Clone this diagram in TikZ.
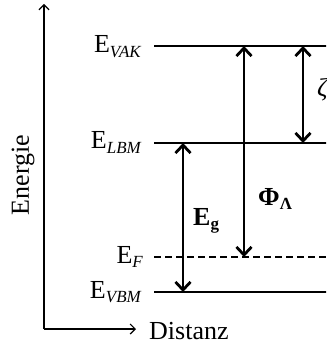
\documentclass[tikz,border=0pt]{standalone}
\usepackage{fontspec}
\setmainfont{Liberation Serif}
\usetikzlibrary{arrows.meta}
\newcommand{\lsub}[1]{\raisebox{-0.35ex}{\fontsize{17}{17}\selectfont #1}}
\begin{document}
\begin{tikzpicture}[x=1pt,y=-1pt,
  level/.style={line width=1.8pt},
  fermi/.style={line width=1.8pt,dash pattern=on 7pt off 4pt},
  axis/.style={line width=1.2pt,-{Straight Barb[length=5pt,width=10pt,line width=1.2pt]}},
  gap/.style={line width=2.8pt,{Straight Barb[length=8pt,width=15pt,line width=2.8pt]}-{Straight Barb[length=8pt,width=15pt,line width=2.8pt]}},
  lbl/.style={font=\fontsize{26}{28}\selectfont, inner sep=0pt}]
\useasboundingbox (0,0) rectangle (326,347);
\clip (0,0) rectangle (326,347);
% axes
\coordinate (O) at (44,329);
\coordinate (Ytop) at (44,4);
\coordinate (Xend) at (136,329);
\draw[axis] (O) -- (Ytop);
\draw[axis] (O) -- (Xend);
\node[lbl, rotate=90] (en) at (23,175) {Energie};
\node[lbl, anchor=west] (dist) at (149,331) {Distanz};
% levels
\coordinate (vak1) at (154,46);  \coordinate (vak2) at (330,46);
\coordinate (lbm1) at (154,143); \coordinate (lbm2) at (330,143);
\coordinate (ef1) at (154,257);  \coordinate (ef2) at (330,257);
\coordinate (vbm1) at (154,292); \coordinate (vbm2) at (330,292);
\draw[level] (vak1) -- (vak2);
\draw[level] (lbm1) -- (lbm2);
\draw[fermi] (ef1) -- (ef2);
\draw[level] (vbm1) -- (vbm2);
% labels
\node[lbl, anchor=base east] (lvak) at (141,53) {E\lsub{\itshape VAK}};
\node[lbl, anchor=base east] (llbm) at (141,149) {E\lsub{\itshape LBM}};
\node[lbl, anchor=base east] (lef) at (143,263) {E\lsub{\itshape F}};
\node[lbl, anchor=base east] (lvbm) at (141,298) {E\lsub{\itshape VBM}};
% arrows
\coordinate (phiT) at (244,46); \coordinate (phiB) at (244,257);
\coordinate (zT) at (303,46);  \coordinate (zB) at (303,143);
\coordinate (gT) at (183,143); \coordinate (gB) at (183,292);
\draw[gap] (phiT) -- (phiB);
\draw[gap] (zT) -- (zB);
\draw[gap] (gT) -- (gB);
\node[lbl, anchor=base west] (lphi) at (258,205) {\bfseries Φ\lsub{Λ}};
\node[lbl, anchor=base west] (leg) at (193,225) {\bfseries E\lsub{g}};
\node[lbl, anchor=base west] (lz) at (317,97) {\itshape ζ};
\end{tikzpicture}
\end{document}
